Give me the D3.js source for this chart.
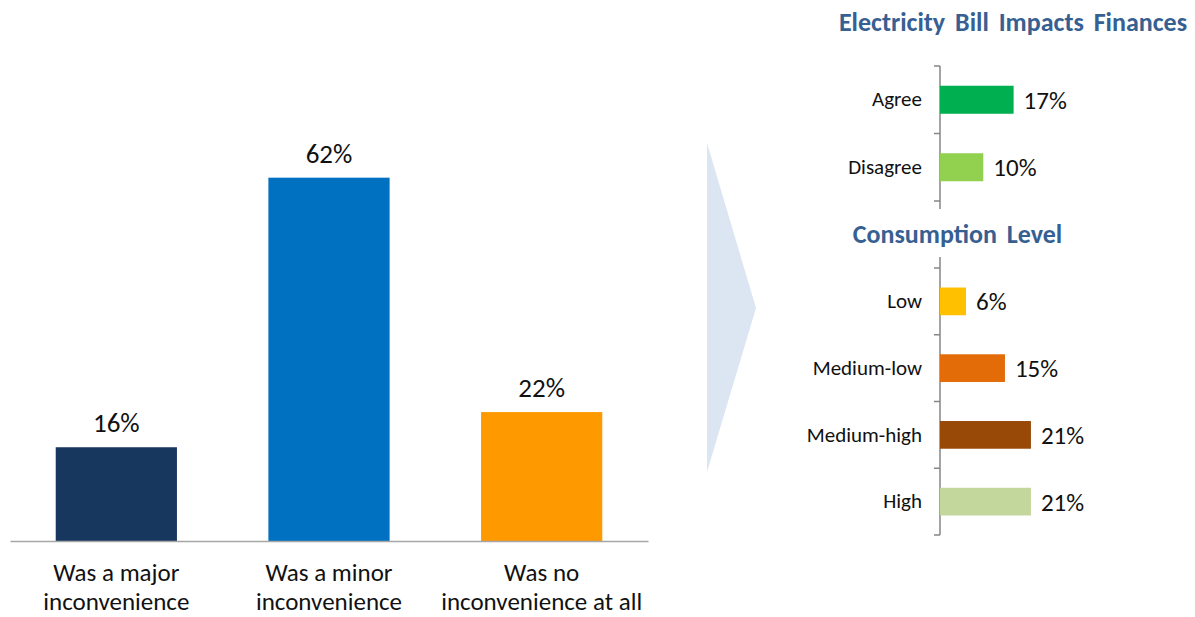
<!DOCTYPE html>
<html>
<head>
<meta charset="utf-8">
<script src="https://cdn.jsdelivr.net/npm/d3@7"></script>
<style>
  html, body { margin: 0; padding: 0; background: #ffffff; }
  svg { display: block; }
  svg text { font-family: Carlito, Lato, "Liberation Sans", sans-serif; }
</style>
</head>
<body>
<svg id="chart" width="1195" height="617"></svg>
<script>
// Main question: how inconvenient was the outage
const inconvCategories = ["major", "minor", "none"];
const inconvLabels = [["Was a major", "inconvenience"], ["Was a minor", "inconvenience"], ["Was no", "inconvenience at all"]];
const inconvValues = [16, 62, 22];
const inconvColors = ["#17375E", "#0070C0", "#FF9900"];

// Breakdown: electricity bill impacts finances
const financeTitle = "Electricity Bill Impacts Finances";
const financeCategories = ["Agree", "Disagree"];
const financeValues = [17, 10];
const financeColors = ["#00B050", "#92D050"];

// Breakdown: consumption level
const consumptionTitle = "Consumption Level";
const consumptionCategories = ["Low", "Medium-low", "Medium-high", "High"];
const consumptionValues = [6, 15, 21, 21];
const consumptionColors = ["#FFC000", "#E36C09", "#984807", "#C3D69B"];

const FONT = "Carlito, Lato, 'Liberation Sans', sans-serif";
const pct = d => d + "%";
const svg = d3.select("#chart");

// ---------- Left: vertical bar chart ----------
const baseY = 541;
const x = d3.scaleBand().domain(inconvCategories).range([10, 648])
  .paddingInner(0.43).paddingOuter(0.215);
const y = d3.scaleLinear().domain([0, 100]).range([baseY, baseY - 586]);

const left = svg.append("g");
left.selectAll("rect").data(inconvValues).join("rect")
  .attr("x", (d, i) => x(inconvCategories[i]))
  .attr("width", x.bandwidth())
  .attr("y", d => y(d))
  .attr("height", d => y(0) - y(d))
  .attr("fill", (d, i) => inconvColors[i]);

left.selectAll("text.val").data(inconvValues).join("text")
  .attr("class", "val")
  .attr("x", (d, i) => x(inconvCategories[i]) + x.bandwidth() / 2)
  .attr("y", d => y(d) - 15)
  .attr("text-anchor", "middle")
  .attr("font-size", 27)
  .attr("fill", "#111")
  .text(pct);

// baseline axis with two-line category labels
const xAxis = left.append("g")
  .attr("transform", `translate(0,${baseY})`)
  .call(d3.axisBottom(x).tickSize(0).tickFormat(""));
xAxis.attr("font-family", FONT);
xAxis.select(".domain").attr("stroke", "#a6a6a6").attr("stroke-width", 1.5);
xAxis.selectAll(".tick").each(function (d, i) {
  const t = d3.select(this).append("text")
    .attr("text-anchor", "middle")
    .attr("fill", "#111")
    .attr("font-family", FONT)
    .attr("font-size", 25);
  inconvLabels[i].forEach((line, j) => {
    t.append("tspan").attr("x", 0).attr("y", 40 + j * 29).text(line);
  });
});

// ---------- Arrow connector ----------
svg.append("path")
  .attr("d", d3.line()([[707, 143], [756, 308], [707, 472]]) + "Z")
  .attr("fill", "#DCE6F2");

// ---------- Right: horizontal breakdown charts ----------
const axisX = 940;
const xr = d3.scaleLinear().domain([0, 100]).range([axisX, axisX + 433]);

function breakdown(cats, vals, colors, y0, y1, lineTop, lineBottom) {
  const g = svg.append("g");
  const yb = d3.scaleBand().domain(cats).range([y0, y1])
    .paddingInner(0.585).paddingOuter(0.2925);

  // axis line and category-boundary ticks
  g.append("line")
    .attr("x1", axisX).attr("x2", axisX)
    .attr("y1", lineTop).attr("y2", lineBottom)
    .attr("stroke", "#868686").attr("stroke-width", 1.5);
  const bounds = d3.range(cats.length + 1).map(i => y0 + i * yb.step());
  g.selectAll("line.tick").data(bounds).join("line")
    .attr("class", "tick")
    .attr("x1", axisX - 6).attr("x2", axisX)
    .attr("y1", d => d).attr("y2", d => d)
    .attr("stroke", "#868686").attr("stroke-width", 1.5);

  // category labels
  const ax = g.append("g").attr("transform", `translate(${axisX},0)`)
    .call(d3.axisLeft(yb).tickSize(0).tickPadding(18));
  ax.attr("font-family", FONT);
  ax.select(".domain").remove();
  ax.selectAll("text")
    .attr("font-size", 21)
    .attr("fill", "#111");

  g.selectAll("rect").data(vals).join("rect")
    .attr("x", xr(0))
    .attr("y", (d, i) => yb(cats[i]))
    .attr("height", yb.bandwidth())
    .attr("width", d => xr(d) - xr(0))
    .attr("fill", (d, i) => colors[i]);

  g.selectAll("text.val").data(vals).join("text")
    .attr("class", "val")
    .attr("x", d => xr(d) + 10)
    .attr("y", (d, i) => yb(cats[i]) + yb.bandwidth() / 2)
    .attr("dy", "0.36em")
    .attr("font-size", 25)
    .attr("fill", "#111")
    .text(pct);
}

function title(text, cx, baseline) {
  svg.append("text")
    .attr("x", cx).attr("y", baseline)
    .attr("text-anchor", "middle")
    .attr("font-size", 26)
    .attr("font-weight", "bold")
    .attr("word-spacing", 4)
    .attr("fill", "#376092")
    .text(text);
}

title(financeTitle, 1013, 31);
breakdown(financeCategories, financeValues, financeColors, 66, 201, 66, 209);

title(consumptionTitle, 957.5, 243);
breakdown(consumptionCategories, consumptionValues, consumptionColors, 268, 535, 257, 535);
</script>
</body>
</html>
